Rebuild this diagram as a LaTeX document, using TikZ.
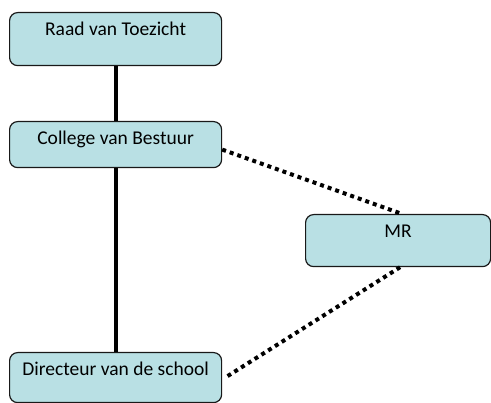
\documentclass[tikz,border=0pt]{standalone}
\usepackage{fontspec}
\setmainfont{Carlito}
\definecolor{boxfill}{RGB}{185,224,228}
\begin{document}
\begin{tikzpicture}[x=1pt,y=-1pt,
	orgbox/.style={draw=black!90,fill=boxfill,rounded corners=8pt,line width=1.2pt,anchor=north west,inner xsep=0pt,inner ysep=6pt,text height=17pt,font=\fontsize{19.5}{23}\selectfont},
	solidlink/.style={line width=4pt},
	dotlink/.style={line width=4pt,dash pattern=on 4pt off 4pt}]
	\useasboundingbox (0,0) rectangle (491,403);
	\node[orgbox,minimum width=212pt,text depth=24pt] (rvt) at (9,12) {Raad van Toezicht};
	\node[orgbox,minimum width=212pt,text depth=17pt] (cvb) at (9,121) {College van Bestuur};
	\node[orgbox,minimum width=212pt,text depth=21pt] (dir) at (9,352) {Directeur van de school};
	\node[orgbox,minimum width=185pt,text depth=23pt] (mr) at (305,214) {MR};
	\draw[solidlink] (rvt) -- (cvb);
	\draw[solidlink] (cvb) -- (dir);
	\draw[dotlink] ([yshift=-5pt]cvb.east) -- ([xshift=4pt]mr.north); % medezeggenschap
	\draw[dotlink] ([xshift=2pt]mr.south) -- ([xshift=3pt]dir.east);
\end{tikzpicture}
\end{document}
